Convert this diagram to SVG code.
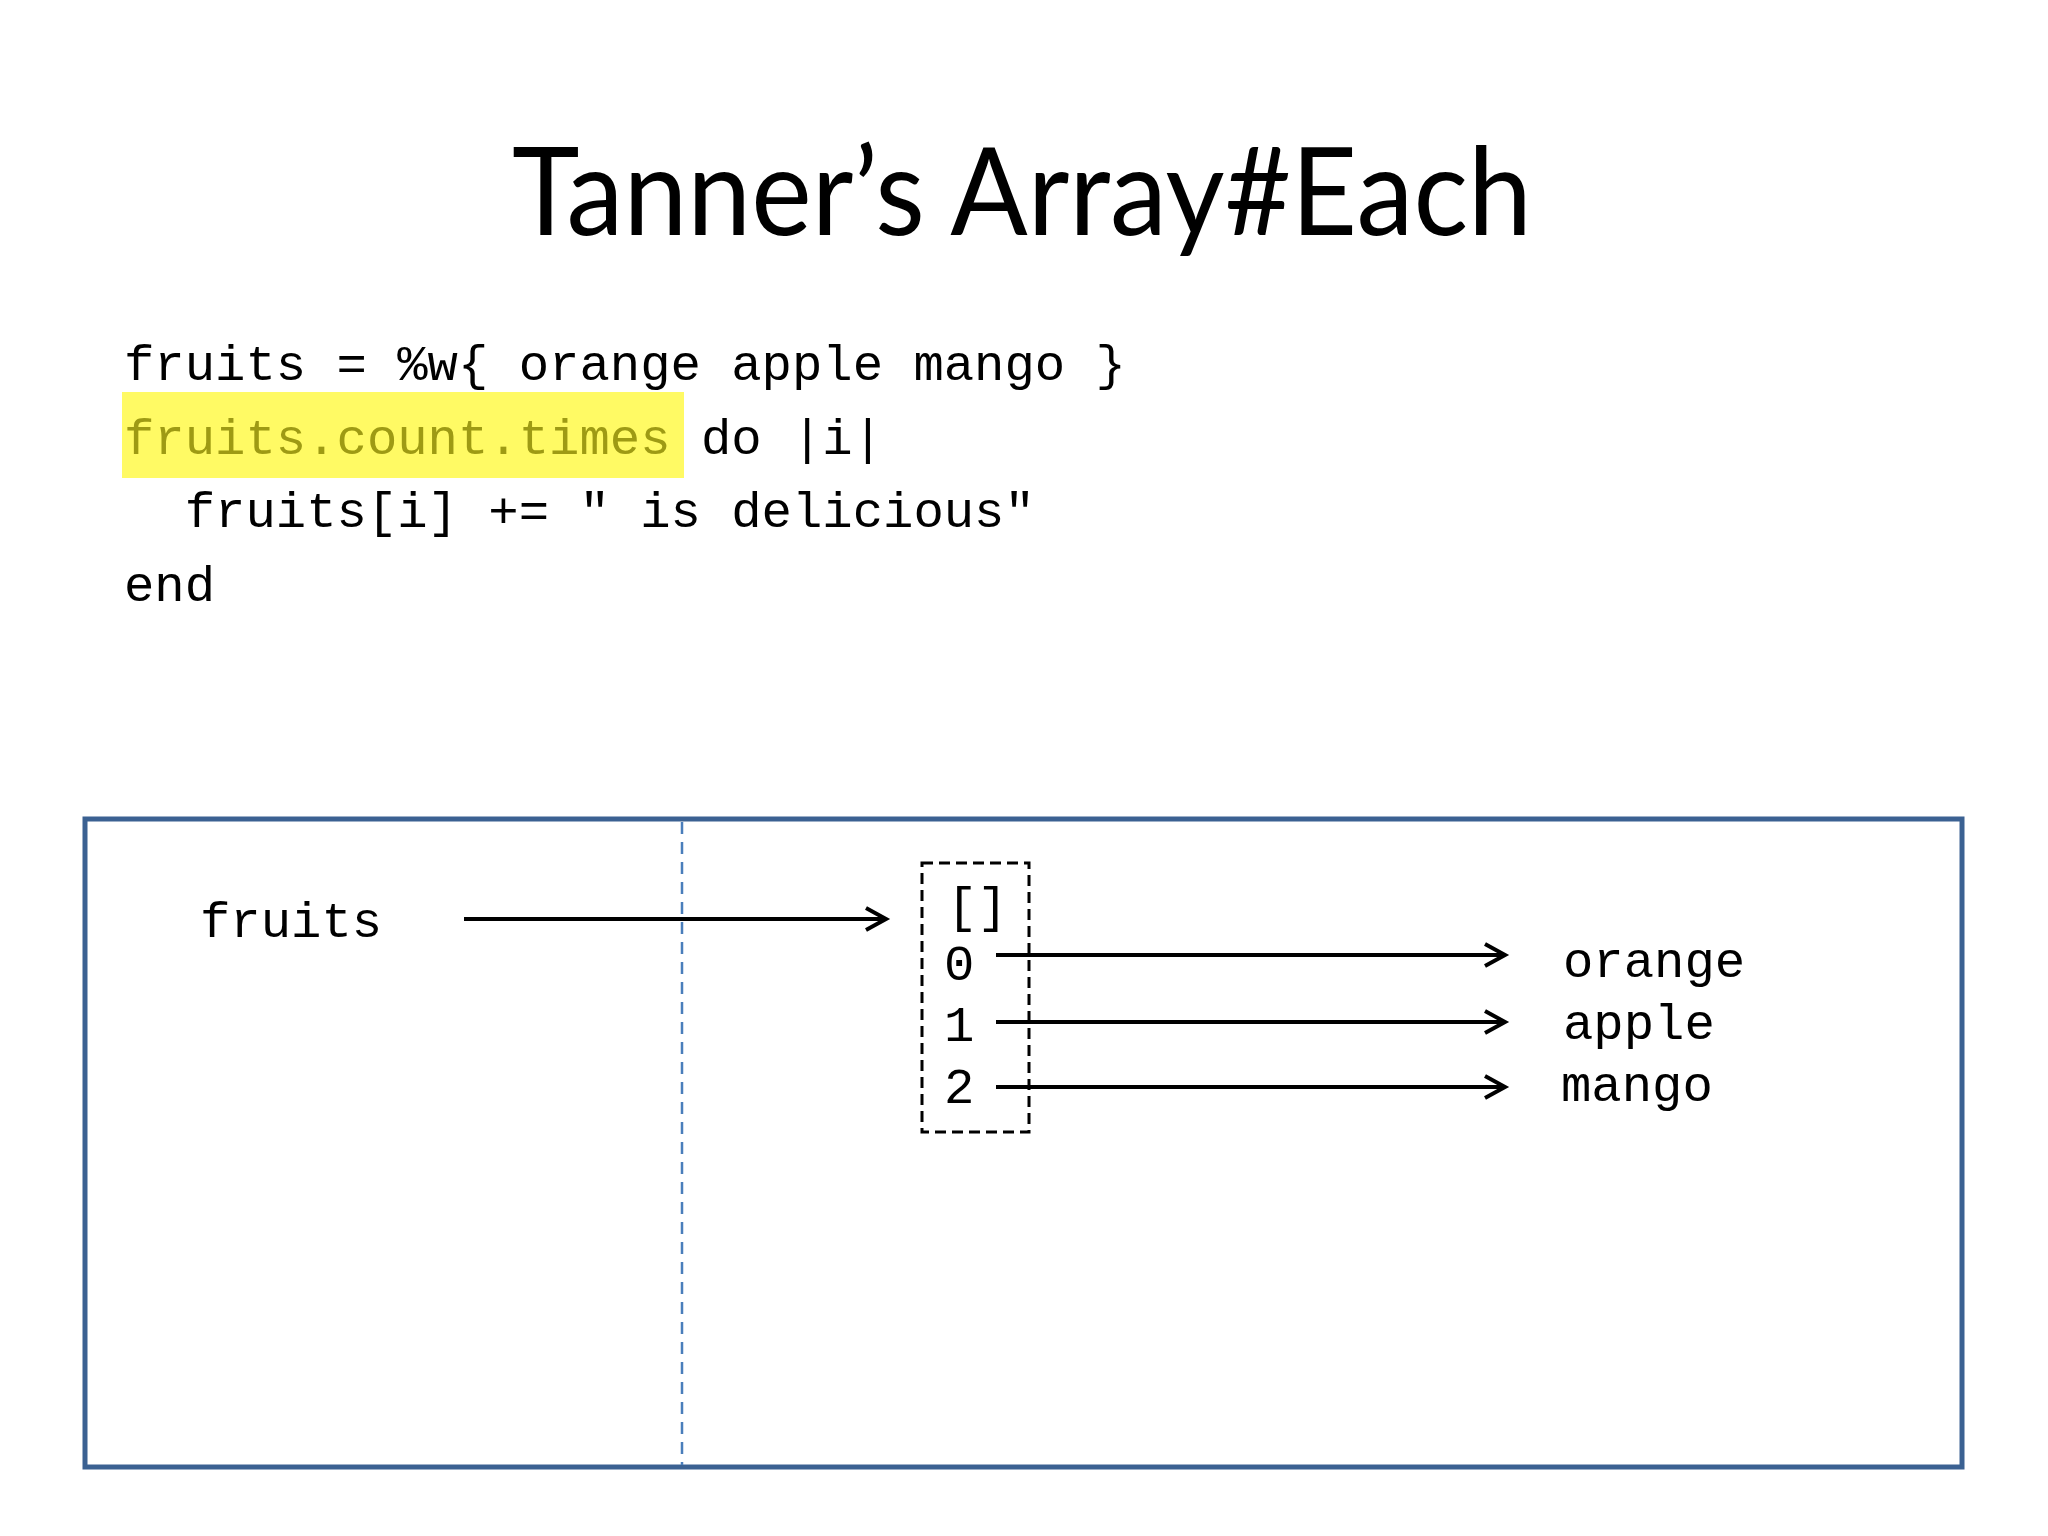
<svg xmlns="http://www.w3.org/2000/svg" width="2048" height="1536" viewBox="0 0 2048 1536">
  <style>
    .title { font-family: Lato, "Open Sans", "Liberation Sans", sans-serif; font-size: 122px; fill: #000; }
    .code { font-family: "Liberation Mono", "Courier New", monospace; font-size: 50.6px; fill: #000; white-space: pre; }
    .hl { fill: #9E9A14; }
    .conn { stroke: #000; stroke-width: 4; fill: none; marker-end: url(#arrow); }
  </style>
  <defs>
    <marker id="arrow" markerUnits="userSpaceOnUse" markerWidth="30" markerHeight="30" viewBox="-24 -15 30 30" refX="0" refY="0" orient="auto">
      <polyline points="-20,-11 0,0 -20,11" fill="none" stroke="#000" stroke-width="4" stroke-linejoin="miter"/>
    </marker>
  </defs>
  <rect width="2048" height="1536" fill="#fff"/>

  <g id="title">
    <text class="title" x="512" y="235" textLength="1020" lengthAdjust="spacingAndGlyphs">Tanner’s Array#Each</text>
  </g>

  <g id="code">
    <rect x="122" y="392" width="562" height="86" fill="#FFFA64"/>
    <text class="code" x="124" y="380">fruits = %w{ orange apple mango }</text>
    <text class="code" x="124" y="454"><tspan class="hl">fruits.count.times</tspan> do |i|</text>
    <text class="code" x="124" y="527">  fruits[i] += " is delicious"</text>
    <text class="code" x="124" y="601">end</text>
  </g>

  <g id="frame">
    <rect x="85" y="819" width="1877" height="648" fill="none" stroke="#3B6192" stroke-width="5"/>
    <line x1="682" y1="822" x2="682" y2="1465" stroke="#4A7EBB" stroke-width="2.5" stroke-dasharray="12 8"/>
  </g>

  <g id="fruits-var">
    <text class="code" x="200" y="937">fruits</text>
  </g>

  <g id="array">
    <rect x="922" y="863" width="107" height="269" fill="none" stroke="#000" stroke-width="3" stroke-dasharray="11 6"/>
    <text class="code" x="947" y="922">[]</text>
    <text class="code" x="944" y="980">0</text>
    <text class="code" x="944" y="1041">1</text>
    <text class="code" x="944" y="1103">2</text>
  </g>

  <g id="values">
    <text class="code" x="1563" y="977">orange</text>
    <text class="code" x="1563" y="1039">apple</text>
    <text class="code" x="1561" y="1101">mango</text>
  </g>

  <g id="connectors">
    <line class="conn" x1="464" y1="919" x2="886" y2="919"/>
    <line class="conn" x1="996" y1="955" x2="1505" y2="955"/>
    <line class="conn" x1="996" y1="1022" x2="1505" y2="1022"/>
    <line class="conn" x1="996" y1="1087" x2="1505" y2="1087"/>
  </g>
</svg>
